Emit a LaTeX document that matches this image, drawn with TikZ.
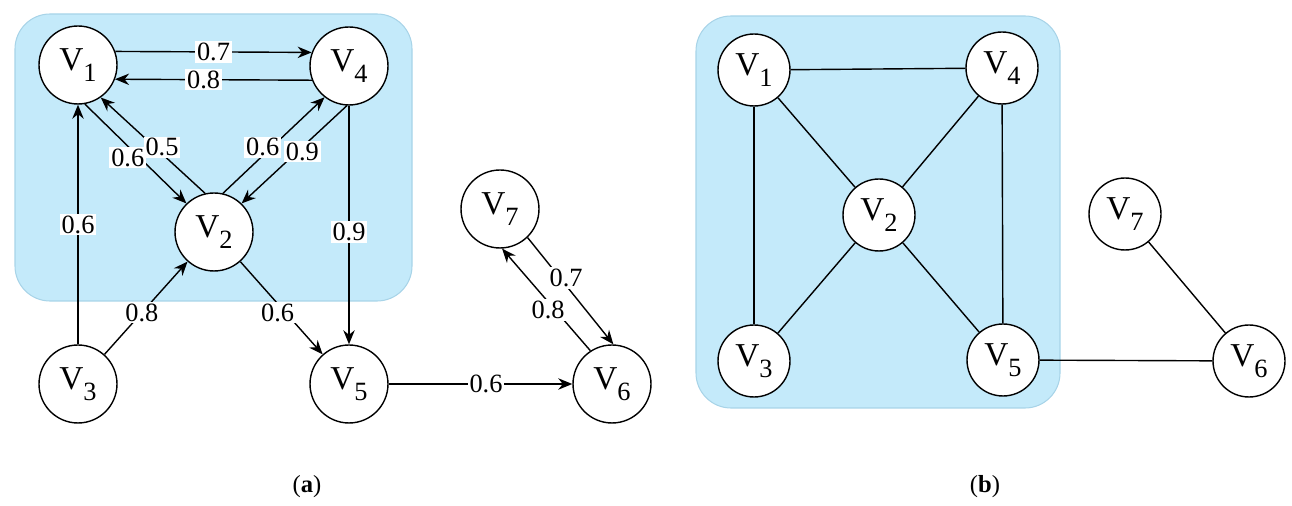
\documentclass[tikz,border=0pt]{standalone}
\usepackage{fontspec}
\setmainfont{Liberation Serif}
\usetikzlibrary{arrows.meta}
\definecolor{grpblue}{RGB}{196,234,250}
\definecolor{grpline}{RGB}{168,212,232}
\newcommand{\vlab}[1]{V\raisebox{-0.34em}{\fontsize{15}{15}\selectfont #1}}

\begin{document}
\begin{tikzpicture}[x=0.02cm,y=-0.02cm,>={Stealth[length=8pt,width=6.5pt]},line width=0.8pt,
  every node/.style={font=\fontsize{19}{19}\selectfont},
  vtx/.style={circle,draw,fill=white,inner sep=0pt,minimum size=1.56cm},
  vsm/.style={vtx,minimum size=1.44cm},
  wt/.style={fill=white,inner sep=1pt,font=\fontsize{15}{15}\selectfont},
  grp/.style={fill=grpblue,draw=grpline,line width=0.6pt,rounded corners=0.7cm}]
\useasboundingbox (0,0) rectangle (1292,506);
% (a) weighted directed graph
\draw[grp] (15,14) rectangle (412,301);
\node[vtx] (a1) at (78,65) {\vlab{1}};
\node[vtx] (a4) at (349,66) {\vlab{4}};
\node[vtx] (a2) at (214,232) {\vlab{2}};
\node[vtx] (a3) at (78,384) {\vlab{3}};
\node[vtx] (a5) at (349,384) {\vlab{5}};
\node[vtx] (a6) at (612,384) {\vlab{6}};
\node[vtx] (a7) at (500,209) {\vlab{7}};
\draw[->] (a1.20) -- node[wt] {0.7} (a4.160);
\draw[->] (a4.-159) -- node[wt,pos=0.55] {0.8} (a1.-21);
\draw[->] (a1.-80) -- node[wt,pos=0.54,xshift=-0.24cm] {0.6} (a2.134);
\draw[->] (a2.103) -- node[wt,pos=0.48,xshift=0.14cm] {0.5} (a1.-55);
\draw[->] (a2.77) -- node[wt,pos=0.48,xshift=-0.18cm] {0.6} (a4.-128);
\draw[->] (a4.-93) -- node[wt,pos=0.47,xshift=0.1cm] {0.9} (a2.46);
\draw[->] (a3) -- node[wt] {0.6} (a1);
\draw[->] (a4) -- node[wt,pos=0.53] {0.9} (a5);
\draw[->] (a3) -- node[wt,pos=0.45] {0.8} (a2);
\draw[->] (a2) -- node[wt,pos=0.55,xshift=-0.16cm] {0.6} (a5);
\draw[->] (a5) -- node[wt,pos=0.53] {0.6} (a6);
\draw[->] (a7.-46) -- node[wt,pos=0.38,xshift=0.12cm] {0.7} (a6.88);
\draw[->] (a6.123) -- node[wt,pos=0.4,xshift=-0.14cm] {0.8} (a7.-87);
\node[font=\fontsize{14}{14}\selectfont] (capa) at (307,487) {(\textbf{a})};
% (b) undirected graph
\draw[grp] (696,16) rectangle (1060,408);
\node[vsm] (b1) at (754,70) {\vlab{1}};
\node[vsm] (b4) at (1002,68) {\vlab{4}};
\node[vsm] (b2) at (879,215) {\vlab{2}};
\node[vsm] (b3) at (754,361) {\vlab{3}};
\node[vsm] (b5) at (1003,360) {\vlab{5}};
\node[vsm] (b6) at (1249,361) {\vlab{6}};
\node[vsm] (b7) at (1125,214) {\vlab{7}};
\draw (b1) -- (b4);
\draw (b1) -- (b3);
\draw (b4) -- (b5);
\draw (b1) -- (b2);
\draw (b4) -- (b2);
\draw (b3) -- (b2);
\draw (b5) -- (b2);
\draw (b5) -- (b6);
\draw (b7) -- (b6);
\node[font=\fontsize{14}{14}\selectfont] (capb) at (985,487) {(\textbf{b})};
\end{tikzpicture}
\end{document}
